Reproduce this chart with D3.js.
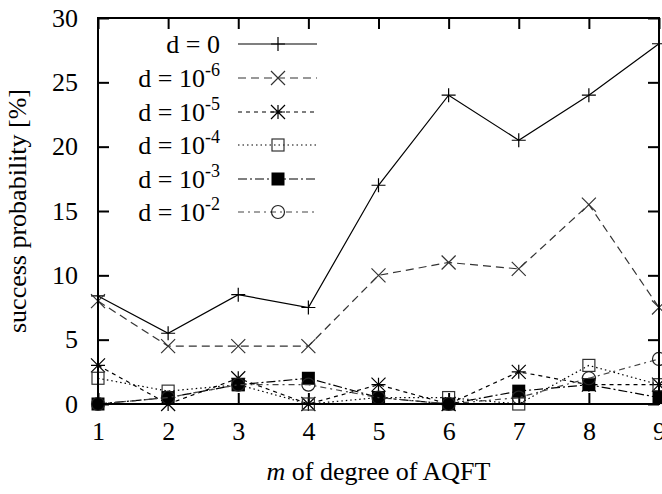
<!DOCTYPE html>
<html>
<head>
<meta charset="utf-8">
<script src="https://cdn.jsdelivr.net/npm/d3@7"></script>
<style>
  body { margin: 0; background: #fff; }
  svg { display: block; }
  svg text { font-family: "Times New Roman", "Liberation Serif", Times, "Nimbus Roman", serif; }
</style>
</head>
<body>
<svg id="chart" width="662" height="494"></svg>
<script>
// m of degree of AQFT
var degrees = [1, 2, 3, 4, 5, 6, 7, 8, 9];
var yTicks = [0, 5, 10, 15, 20, 25, 30];

// success probability [%] per error rate d
var d0  = [8.4, 5.5, 8.5, 7.5, 17, 24, 20.5, 24, 28];
var d6  = [8.0, 4.5, 4.5, 4.5, 10, 11, 10.5, 15.5, 7.5];
var d5  = [3.0, 0, 2.0, 0, 1.5, 0, 2.5, 1.5, 1.5];
var d4  = [2.0, 1.0, 1.5, 0, 0.5, 0.5, 0, 3.0, 1.5];
var d3v = [0, 0.5, 1.5, 2.0, 0.5, 0, 1.0, 1.5, 0.5];
var d2  = [0, 0.5, 1.5, 1.5, 0.5, 0, 0.5, 2.0, 3.5];

var seriesNames = ["0", "-6", "-5", "-4", "-3", "-2"];
var seriesValues = [d0, d6, d5, d4, d3v, d2];

var styles = [
  { dash: null,          color: "#000", marker: "plus" },
  { dash: "8,5",         color: "#333", marker: "cross" },
  { dash: "4,4",         color: "#000", marker: "star" },
  { dash: "1.5,3",       color: "#000", marker: "square" },
  { dash: "9,3,2,3",     color: "#000", marker: "filled" },
  { dash: "6,4,2,4",     color: "#444", marker: "circle" }
];

var margin = { left: 98, right: 3, top: 18, bottom: 90 };
var width = 662, height = 494;

var x = d3.scaleLinear().domain([1, 9]).range([margin.left, width - margin.right]);
var y = d3.scaleLinear().domain([0, 30]).range([height - margin.bottom, margin.top]);

var svg = d3.select("#chart");

// marker drawing
function marker(g, type, cx, cy, color) {
  var s = 7;
  if (type === "plus") {
    g.append("path").attr("d", "M" + (cx - s) + "," + cy + "H" + (cx + s) + "M" + cx + "," + (cy - s) + "V" + (cy + s))
      .attr("stroke", color).attr("stroke-width", 1.2).attr("fill", "none");
  } else if (type === "cross") {
    g.append("path").attr("d", "M" + (cx - s) + "," + (cy - s) + "L" + (cx + s) + "," + (cy + s) + "M" + (cx - s) + "," + (cy + s) + "L" + (cx + s) + "," + (cy - s))
      .attr("stroke", color).attr("stroke-width", 1.2).attr("fill", "none");
  } else if (type === "star") {
    g.append("path").attr("d", "M" + (cx - s) + "," + cy + "H" + (cx + s) + "M" + cx + "," + (cy - s) + "V" + (cy + s) +
        "M" + (cx - s) + "," + (cy - s) + "L" + (cx + s) + "," + (cy + s) + "M" + (cx - s) + "," + (cy + s) + "L" + (cx + s) + "," + (cy - s))
      .attr("stroke", color).attr("stroke-width", 1.2).attr("fill", "none");
  } else if (type === "square") {
    g.append("rect").attr("x", cx - 6).attr("y", cy - 6).attr("width", 12).attr("height", 12)
      .attr("stroke", "#333").attr("stroke-width", 1.2).attr("fill", "none");
  } else if (type === "filled") {
    g.append("rect").attr("x", cx - 6.5).attr("y", cy - 6.5).attr("width", 13).attr("height", 13)
      .attr("fill", "#000");
  } else if (type === "circle") {
    g.append("circle").attr("cx", cx).attr("cy", cy).attr("r", 6.5)
      .attr("stroke", "#222").attr("stroke-width", 1.2).attr("fill", "none");
  }
}

// axes: ticks point inward, mirrored on top and right
var tick = 11;
var plotW = x.range()[1] - x.range()[0];
var plotH = y.range()[0] - y.range()[1];

var gx = svg.append("g")
  .attr("transform", "translate(0," + y(0) + ")")
  .call(d3.axisBottom(x).tickValues(degrees).tickSizeInner(-tick).tickSizeOuter(0).tickPadding(18).tickFormat(d3.format("d")));
var gxTop = svg.append("g")
  .attr("transform", "translate(0," + y(30) + ")")
  .call(d3.axisTop(x).tickValues(degrees).tickSizeInner(-tick).tickSizeOuter(0).tickFormat(""));
var gy = svg.append("g")
  .attr("transform", "translate(" + x(1) + ",0)")
  .call(d3.axisLeft(y).tickValues(yTicks).tickSizeInner(-tick).tickSizeOuter(0).tickPadding(20));
var gyRight = svg.append("g")
  .attr("transform", "translate(" + x(9) + ",0)")
  .call(d3.axisRight(y).tickValues(yTicks).tickSizeInner(-tick).tickSizeOuter(0).tickFormat(""));

[gx, gxTop, gy, gyRight].forEach(function (g) {
  g.attr("font-family", null).attr("font-size", null);
  g.select(".domain").remove();
  g.selectAll(".tick line").attr("stroke", "#000").attr("stroke-width", 2);
  g.selectAll("text").attr("font-size", 26).attr("fill", "#000");
});

// series lines and markers
var line = d3.line().x(function (d, i) { return x(degrees[i]); }).y(function (d) { return y(d); });

seriesValues.forEach(function (vals, k) {
  var st = styles[k];
  svg.append("path")
    .datum(vals)
    .attr("d", line)
    .attr("fill", "none")
    .attr("stroke", st.color)
    .attr("stroke-width", 1.2)
    .attr("stroke-dasharray", st.dash);
  var mg = svg.append("g");
  vals.forEach(function (v, i) { marker(mg, st.marker, x(degrees[i]), y(v), st.color); });
});

// frame
svg.append("rect")
  .attr("x", x(1)).attr("y", y(30))
  .attr("width", plotW).attr("height", plotH)
  .attr("fill", "none").attr("stroke", "#000").attr("stroke-width", 2);

// legend
var legend = svg.append("g").attr("class", "legend");
var rowY = [44, 78, 112, 145, 179, 212];
seriesNames.forEach(function (name, k) {
  var st = styles[k];
  var t = legend.append("text")
    .attr("x", 220).attr("y", rowY[k] + 9)
    .attr("text-anchor", "end")
    .attr("font-size", 26);
  if (name === "0") {
    t.text("d = 0");
  } else {
    t.append("tspan").text("d = 10");
    t.append("tspan").attr("font-size", 18).attr("dy", -11).text(name);
  }
  legend.append("line")
    .attr("x1", 238).attr("x2", 317)
    .attr("y1", rowY[k]).attr("y2", rowY[k])
    .attr("stroke", st.color).attr("stroke-width", 1.2)
    .attr("stroke-dasharray", st.dash);
  marker(legend, st.marker, 278, rowY[k], st.color);
});

// axis titles
var xt = svg.append("text")
  .attr("x", (x(1) + x(9)) / 2).attr("y", 480)
  .attr("text-anchor", "middle").attr("font-size", 26);
xt.append("tspan").attr("font-style", "italic").text("m");
xt.append("tspan").text(" of degree of AQFT");

svg.append("text")
  .attr("transform", "translate(26," + ((y(0) + y(30)) / 2) + ") rotate(-90)")
  .attr("text-anchor", "middle").attr("font-size", 26)
  .text("success probability [%]");
</script>
</body>
</html>
